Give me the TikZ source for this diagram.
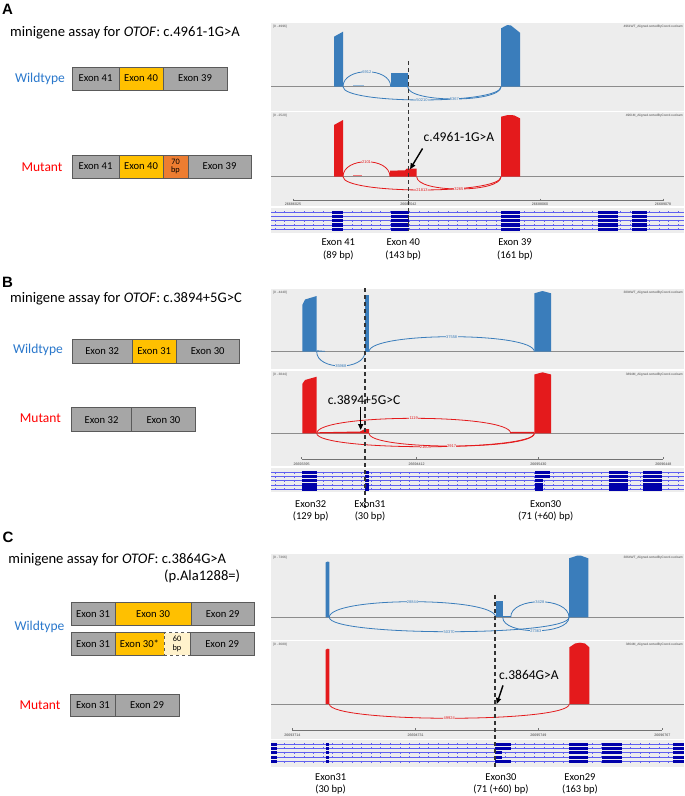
\documentclass[tikz,border=0pt]{standalone}
\usepackage{fontspec}
\setmainfont{Carlito}
\newfontfamily\panelfont{Liberation Sans}
\newfontfamily\igvfont{Liberation Sans}
\usetikzlibrary{arrows.meta}
\definecolor{exgray}{HTML}{A6A6A6}
\definecolor{exline}{HTML}{5A5A5A}
\definecolor{exgold}{HTML}{FFC000}
\definecolor{exorange}{HTML}{ED7D31}
\definecolor{excream}{HTML}{FFF2CC}
\definecolor{wtlab}{HTML}{2A78CC}
\definecolor{mutlab}{HTML}{FF0000}
\definecolor{igvbg}{HTML}{EDEDED}
\definecolor{igvblue}{HTML}{3A7DBB}
\definecolor{igvred}{HTML}{E41A1C}
\definecolor{gblock}{HTML}{0000AA}
\definecolor{gline}{HTML}{6060F0}
\begin{document}
\begin{tikzpicture}[x=1pt,y=-1pt,
  exonbox/.style={draw=exline,line width=0.8pt,fill=exgray,inner sep=0pt,
    font=\fontsize{10.6}{11}\selectfont,align=center},
  goldbox/.style={exonbox,fill=exgold},
  orangebox/.style={exonbox,fill=exorange,font=\fontsize{8.3}{8.6}\selectfont},
  creambox/.style={exonbox,fill=excream,dashed,font=\fontsize{8.3}{8.6}\selectfont},
  title/.style={anchor=west,inner sep=0pt,font=\fontsize{14.6}{16}\selectfont},
  panelletter/.style={inner sep=0pt,font=\panelfont\bfseries\fontsize{15}{16}\selectfont},
  wtlabel/.style={inner sep=0pt,text=wtlab,font=\fontsize{13.5}{14}\selectfont},
  mutlabel/.style={inner sep=0pt,text=mutlab,font=\fontsize{13.5}{14}\selectfont},
  exlab/.style={inner sep=0pt,font=\fontsize{10.5}{11}\selectfont},
  annlab/.style={inner sep=1pt,font=\fontsize{13.5}{14}\selectfont},
  annarrow/.style={line width=1.4pt,-{Triangle[length=6pt,width=5pt]}},
  mutdash/.style={line width=1.2pt,dash pattern=on 4pt off 3pt,black!80},
  tinytxt/.style={inner sep=0pt,font=\igvfont\fontsize{3.2}{3.4}\selectfont,text=black!70},
  ticklab/.style={inner sep=0pt,font=\igvfont\fontsize{3.6}{3.8}\selectfont,text=black!75},
  arclab/.style={inner sep=0.3pt,fill=igvbg,font=\igvfont\fontsize{4}{4}\selectfont},
  wtarc/.style={draw=igvblue,line width=0.8pt},
  mutarc/.style={draw=igvred,line width=0.8pt},
  baseln/.style={draw=black!45,line width=0.7pt},
  rulerln/.style={draw=black!55,line width=0.6pt},
  geneline/.style={draw=gline,line width=0.5pt},
  genetick/.style={draw=gline,line width=0.3pt},
  geneblock/.style={fill=gblock},
]
\useasboundingbox (0,0) rectangle (685,796);
\fill[white] (0,0) rectangle (685,796);

% ================= PANEL A (left) =================
\node[panelletter] (pA) at (7.5,9.5) {A};
\node[title] (tA) at (10,33) {minigene assay for \textit{OTOF}: c.4961-1G>A};
\node[wtlabel] (wA) at (40,79) {Wildtype};
\node[mutlabel] (mA) at (42,167) {Mutant};
\node[exonbox,minimum width=47pt,minimum height=23pt] (aw1) at (95.5,78.5) {Exon 41};
\node[goldbox,minimum width=44pt,minimum height=23pt] (aw2) at (141,78.5) {Exon 40};
\node[exonbox,minimum width=64pt,minimum height=23pt] (aw3) at (195,78.5) {Exon 39};
\node[exonbox,minimum width=47pt,minimum height=23pt] (am1) at (95.5,166.5) {Exon 41};
\node[goldbox,minimum width=44pt,minimum height=23pt] (am2) at (141,166.5) {Exon 40};
\node[orangebox,minimum width=25pt,minimum height=23pt] (am3) at (175.5,166.5) {70\\bp};
\node[exonbox,minimum width=63pt,minimum height=23pt] (am4) at (219.5,166.5) {Exon 39};

% ================= PANEL A (IGV) =================
\fill[igvbg] (271,23) rectangle (684,233);
\draw[white,line width=1.2pt] (271,111.5) -- (684,111.5);
\draw[white,line width=1.2pt] (271,207) -- (684,207);
\node[tinytxt,anchor=west] (a1l) at (273,27) {[0 - 4996]};
\node[tinytxt,anchor=east] (a1r) at (683,27) {4961WT\_Aligned.sortedByCoord.out.bam};
\node[tinytxt,anchor=west] (a2l) at (273,116) {[0 - 2520]};
\node[tinytxt,anchor=east] (a2r) at (683,116) {4961M\_Aligned.sortedByCoord.out.bam};
% WT coverage
\draw[baseln] (271,86.7) -- (684,86.7);
\fill[igvblue] (334,86.7) -- (334,36.7) -- (343,31.7) -- (343,86.7) -- cycle;
\fill[igvblue] (390.7,73) rectangle (407.7,86.7);
\fill[igvblue] (501,86.7) -- (501,28.3) -- (507.3,25) -- (511,25.5) -- (520,32.7) -- (520,86.7) -- cycle;
\draw[igvblue!55,line width=0.6pt] (353,85.6) -- (364,85.6);
\draw[wtarc] (343,86.7) .. controls (343,66.7) and (390.7,66.7) .. (390.7,86.7) node[arclab,text=igvblue,pos=0.5] (la1) {6912};
\draw[wtarc] (343,86.7) .. controls (343,104.4) and (501,104.4) .. (501,86.7) node[arclab,text=igvblue,pos=0.5] (la2) {50210};
\draw[wtarc] (407.7,86.7) .. controls (407.7,103.1) and (501,103.1) .. (501,86.7) node[arclab,text=igvblue,pos=0.5] (la3) {6367};
% Mutant coverage
\draw[baseln] (271,176.7) -- (684,176.7);
\fill[igvred] (334,176.7) -- (334,125) -- (343,120) -- (343,176.7) -- cycle;
\fill[igvred] (390,176.7) -- (390,170.7) -- (405,170.3) -- (407,168.5) -- (416.7,168.5) -- (416.7,176.7) -- cycle;
\fill[igvred] (501,176.7) -- (501,116.7) -- (508,115) -- (514,115.3) -- (520,118.3) -- (520,176.7) -- cycle;
\draw[igvred!60,line width=0.6pt] (353,175.6) -- (362,175.6);
\draw[mutarc] (343,176.7) .. controls (343,156.7) and (390,156.7) .. (390,176.7) node[arclab,text=igvred,pos=0.5] (la4) {2101};
\draw[mutarc] (343,176.7) .. controls (343,194.4) and (501,194.4) .. (501,176.7) node[arclab,text=igvred,pos=0.5] (la5) {21813};
\draw[mutarc] (416.7,176.7) .. controls (416.7,193.1) and (501,193.1) .. (501,176.7) node[arclab,text=igvred,pos=0.5] (la6) {3265};
% ruler
\draw[rulerln] (293,200.5) -- (663,200.5);
\foreach \t/\lab [count=\i] in {293/26686025,408.3/26687042,540/26688060,663/26689078}{
  \draw[rulerln] (\t,198.5) -- (\t,200.5);
  \node[ticklab] (rA\i) at (\t,204.3) {\lab};
}
% gene track
\foreach \yy in {212.3,216.5,220.7,225,229.2}{
  \draw[geneline] (271,\yy) -- (684,\yy);
  \foreach \xx in {275,284.6,...,684} \draw[genetick] (\xx,\yy-0.9) -- (\xx,\yy+0.9);
  \foreach \a/\b in {332.3/343.3,391/409,500.7/520,598/618.3,631.7/646.7}
    \fill[geneblock] (\a,\yy-1.6) rectangle (\b,\yy+1.6);
}
% dashed mutation line
\coordinate (dA1) at (408.3,61);
\coordinate (dA2) at (408.3,231);
\draw[mutdash] (dA1) -- (dA2);
% annotation
\node[annlab] (annA) at (459,136.7) {c.4961-1G>A};
\coordinate (tipA) at (410,169.3);
\draw[annarrow] ([shift={(0,6)}]annA.south west) -- (tipA);
% exon labels
\node[exlab] (eA1) at (338.3,241.7) {Exon 41};
\node[exlab] (eA1b) at (338.3,255) {(89 bp)};
\node[exlab] (eA2) at (403.3,241.7) {Exon 40};
\node[exlab] (eA2b) at (403.3,255) {(143 bp)};
\node[exlab] (eA3) at (515,241.7) {Exon 39};
\node[exlab] (eA3b) at (515,255) {(161 bp)};

% ================= PANEL B (left) =================
\node[panelletter] (pB) at (7.5,282.8) {B};
\node[title] (tB) at (10,298.3) {minigene assay for \textit{OTOF}: c.3894+5G>C};
\node[wtlabel] (wB) at (38,350) {Wildtype};
\node[mutlabel] (mB) at (40.4,418) {Mutant};
\node[exonbox,minimum width=60.3pt,minimum height=24pt] (bw1) at (102.2,351) {Exon 32};
\node[goldbox,minimum width=43.7pt,minimum height=24pt] (bw2) at (154.2,351) {Exon 31};
\node[exonbox,minimum width=63.3pt,minimum height=24pt] (bw3) at (207.7,351) {Exon 30};
\node[exonbox,minimum width=60.4pt,minimum height=24pt] (bm1) at (101.5,419.7) {Exon 32};
\node[exonbox,minimum width=63.3pt,minimum height=24pt] (bm2) at (163.4,419.7) {Exon 30};

% ================= PANEL B (IGV) =================
\fill[igvbg] (271,289) rectangle (684,492);
\draw[white,line width=1.2pt] (271,370) -- (684,370);
\draw[white,line width=1.2pt] (271,467) -- (684,467);
\node[tinytxt,anchor=west] (b1l) at (273,293) {[0 - 4440]};
\node[tinytxt,anchor=east] (b1r) at (683,293) {3894WT\_Aligned.sortedByCoord.out.bam};
\node[tinytxt,anchor=west] (b2l) at (273,375) {[0 - 3844]};
\node[tinytxt,anchor=east] (b2r) at (683,375) {3894M\_Aligned.sortedByCoord.out.bam};
% WT
\draw[baseln] (271,351.7) -- (684,351.7);
\fill[igvblue] (302.3,351.7) -- (302.3,305) -- (305,299.5) -- (316.7,296) -- (316.7,351.7) -- cycle;
\fill[igvblue] (316.7,351.7) -- (316.7,350.3) -- (325,351) -- (325,351.7) -- cycle;
\fill[igvblue] (365,295) rectangle (369,351.7);
\fill[igvblue] (534.3,351.7) -- (534.3,293.3) -- (542.5,291) -- (551,293.3) -- (551,351.7) -- cycle;
\draw[wtarc] (316.7,351.7) .. controls (316.7,370.8) and (365,370.8) .. (365,351.7) node[arclab,text=igvblue,pos=0.5] (lb1) {35968};
\draw[wtarc] (369,351.7) .. controls (369,331.7) and (534.3,331.7) .. (534.3,351.7) node[arclab,text=igvblue,pos=0.5] (lb2) {37558};
% Mutant
\draw[baseln] (271,433.3) -- (684,433.3);
\fill[igvred] (302.3,433.3) -- (302.3,384) -- (305,380) -- (316.7,376.7) -- (316.7,433.3) -- cycle;
\fill[igvred] (316.7,433.3) -- (316.7,432.3) -- (360,431.5) -- (365,429) -- (369,429) -- (369,433.3) -- cycle;
\fill[igvred] (510.7,433.3) -- (510.7,432) -- (534.3,431.8) -- (534.3,433.3) -- cycle;
\fill[igvred] (534.3,433.3) -- (534.3,374.5) -- (542.5,372.3) -- (551,374.5) -- (551,433.3) -- cycle;
\draw[mutarc] (316.7,433.3) .. controls (316.7,413.3) and (510.7,413.3) .. (510.7,433.3) node[arclab,text=igvred,pos=0.5] (lb3) {1119};
\draw[mutarc] (316.7,433.3) .. controls (316.7,451.2) and (534.3,451.2) .. (534.3,433.3) node[arclab,text=igvred,pos=0.5] (lb4) {21609};
\draw[mutarc] (369,433.3) .. controls (369,450.3) and (534.3,450.3) .. (534.3,433.3) node[arclab,text=igvred,pos=0.5] (lb5) {2917};
% ruler
\draw[rulerln] (301.7,459) -- (663.3,459);
\foreach \t/\lab [count=\i] in {301.7/26693395,416.7/26694412,538.3/26695430,663.3/26696448}{
  \draw[rulerln] (\t,457) -- (\t,459);
  \node[ticklab] (rB\i) at (\t,463.8) {\lab};
}
% gene track
\foreach \yy [count=\r] in {472.7,476.7,480.7,485,489}{
  \draw[geneline] (271,\yy) -- (684,\yy);
  \foreach \xx in {275,284.6,...,684} \draw[genetick] (\xx,\yy-0.9) -- (\xx,\yy+0.9);
  \foreach \a/\b in {301.7/316.7,365/369,609.3/628.3,642.7/661.7}
    \fill[geneblock] (\a,\yy-1.6) rectangle (\b,\yy+1.6);
  \ifnum\r<3
    \fill[geneblock] (535,\yy-1.6) rectangle (550,\yy+1.6);
  \else
    \fill[geneblock] (535,\yy-1.6) rectangle (543.3,\yy+1.6);
  \fi
}
\coordinate (dB1) at (365,288);
\coordinate (dB2) at (365,508);
\draw[mutdash] (dB1) -- (dB2);
\node[annlab] (annB) at (364,400) {c.3894+5G>C};
\coordinate (tipB) at (360.7,430);
\draw[annarrow] ([shift={(-3.3,1.5)}]annB.south) -- (tipB);
\node[exlab] (eB1) at (310.7,504) {Exon32};
\node[exlab] (eB1b) at (310.7,516.7) {(129 bp)};
\node[exlab] (eB2) at (370,504) {Exon31};
\node[exlab] (eB2b) at (370,516.7) {(30 bp)};
\node[exlab] (eB3) at (545.7,504) {Exon30};
\node[exlab] (eB3b) at (545.7,516.7) {(71 (+60) bp)};

% ================= PANEL C (left) =================
\node[panelletter] (pC) at (8,537) {C};
\node[title] (tC) at (8.3,559.3) {minigene assay for \textit{OTOF}: c.3864G>A};
\node[title] (tC2) at (164,576.7) {(p.Ala1288=)};
\node[wtlabel] (wC) at (39.5,627.3) {Wildtype};
\node[mutlabel] (mC) at (40,705) {Mutant};
\node[exonbox,minimum width=44pt,minimum height=22.3pt] (cw1) at (93,613.9) {Exon 31};
\node[goldbox,minimum width=76pt,minimum height=22.3pt] (cw2) at (153,613.9) {Exon 30};
\node[exonbox,minimum width=63.3pt,minimum height=22.3pt] (cw3) at (222.7,613.9) {Exon 29};
\node[exonbox,minimum width=44pt,minimum height=22.3pt] (cv1) at (93,643.9) {Exon 31};
\node[goldbox,minimum width=49pt,minimum height=22.3pt] (cv2) at (139.5,643.9) {Exon 30*};
\node[creambox,minimum width=26pt,minimum height=22.3pt] (cv3) at (177,643.9) {60\\bp};
\node[exonbox,minimum width=64.3pt,minimum height=22.3pt] (cv4) at (222.2,643.9) {Exon 29};
\node[exonbox,minimum width=44.3pt,minimum height=22.4pt] (cm1) at (92.9,705.5) {Exon 31};
\node[exonbox,minimum width=64pt,minimum height=22.4pt] (cm2) at (147,705.5) {Exon 29};

% ================= PANEL C (IGV) =================
\fill[igvbg] (271,554) rectangle (684,767);
\draw[white,line width=1.2pt] (271,640.5) -- (684,640.5);
\draw[white,line width=1.2pt] (271,739.5) -- (684,739.5);
\node[tinytxt,anchor=west] (c1l) at (273,558) {[0 - 7366]};
\node[tinytxt,anchor=east] (c1r) at (683,558) {3864WT\_Aligned.sortedByCoord.out.bam};
\node[tinytxt,anchor=west] (c2l) at (273,645) {[0 - 3689]};
\node[tinytxt,anchor=east] (c2r) at (683,645) {3864M\_Aligned.sortedByCoord.out.bam};
% WT
\draw[baseln] (271,617.3) -- (684,617.3);
\fill[igvblue] (325.7,617.3) -- (325.7,562.5) -- (327.5,561.5) -- (329.3,562) -- (329.3,617.3) -- cycle;
\fill[igvblue] (495.7,601.3) rectangle (502.7,617.3);
\fill[igvblue] (502.7,615.7) rectangle (510.7,617.3);
\fill[igvblue] (569,617.3) -- (569,558.3) -- (577,555.7) -- (581,555.7) -- (588.3,558.3) -- (588.3,617.3) -- cycle;
\draw[wtarc] (329.3,617.3) .. controls (329.3,596.5) and (495.7,596.5) .. (495.7,617.3) node[arclab,text=igvblue,pos=0.5] (lc1) {28844};
\draw[wtarc] (510.7,617.3) .. controls (510.7,596.5) and (569,596.5) .. (569,617.3) node[arclab,text=igvblue,pos=0.5] (lc2) {3428};
\draw[wtarc] (329.3,617.3) .. controls (329.3,636.5) and (569,636.5) .. (569,617.3) node[arclab,text=igvblue,pos=0.5] (lc3) {50370};
\draw[wtarc] (502.7,617.3) .. controls (502.7,635.2) and (569,635.2) .. (569,617.3) node[arclab,text=igvblue,pos=0.5] (lc4) {27363};
% Mutant
\draw[baseln] (271,704) -- (684,704);
\fill[igvred] (325.7,704) -- (325.7,649.7) -- (327.5,648.7) -- (329.3,649) -- (329.3,704) -- cycle;
\fill[igvred] (569.3,704) -- (569.3,647.3) -- (575,643.5) -- (580,642.7) -- (585,643.5) -- (589.3,647.3) -- (589.3,704) -- cycle;
\draw[mutarc] (329.3,704) .. controls (329.3,723) and (569.3,723) .. (569.3,704) node[arclab,text=igvred,pos=0.5] (lc5) {49924};
% ruler
\draw[rulerln] (292.3,730) -- (662.3,730);
\foreach \t/\lab [count=\i] in {292.3/26693714,415.7/26694731,538.3/26695749,662.3/26696767}{
  \draw[rulerln] (\t,728) -- (\t,730);
  \node[ticklab] (rC\i) at (\t,735.7) {\lab};
}
% gene track
\foreach \yy [count=\r] in {744.3,748.3,752.7,757.3,761.7}{
  \draw[geneline] (271,\yy) -- (684,\yy);
  \foreach \xx in {275,284.6,...,684} \draw[genetick] (\xx,\yy-0.9) -- (\xx,\yy+0.9);
  \foreach \a/\b in {271/277.3,325.7/329.3,569.3/588.3,601.7/621.7,673.3/684}
    \fill[geneblock] (\a,\yy-1.6) rectangle (\b,\yy+1.6);
  \ifnum\r=3
    \fill[geneblock] (495.3,\yy-1.6) rectangle (502.3,\yy+1.6);
  \else\ifnum\r=4
    \fill[geneblock] (495.3,\yy-1.6) rectangle (502.3,\yy+1.6);
  \else
    \fill[geneblock] (495.3,\yy-1.6) rectangle (510.7,\yy+1.6);
  \fi\fi
}
\coordinate (dC1) at (495,595);
\coordinate (dC2) at (495,768);
\draw[mutdash] (dC1) -- (dC2);
\node[annlab] (annC) at (529,675) {c.3864G>A};
\coordinate (tipC) at (496.7,704);
\draw[annarrow] ([shift={(5,4.5)}]annC.south west) -- (tipC);
\node[exlab] (eC1) at (330.7,776.7) {Exon31};
\node[exlab] (eC1b) at (330.7,789.3) {(30 bp)};
\node[exlab] (eC2) at (501,776.7) {Exon30};
\node[exlab] (eC2b) at (501,789.3) {(71 (+60) bp)};
\node[exlab] (eC3) at (580,776.7) {Exon29};
\node[exlab] (eC3b) at (580,789.3) {(163 bp)};
\end{tikzpicture}
\end{document}
